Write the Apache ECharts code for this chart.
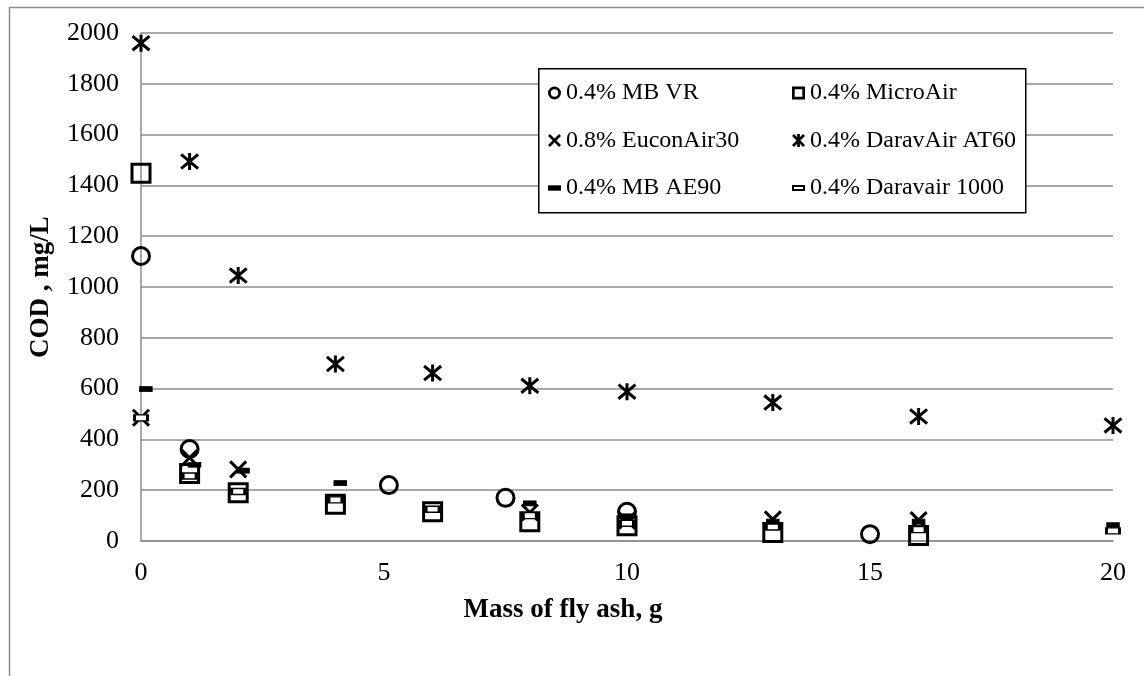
<!DOCTYPE html>
<html>
<head>
<meta charset="utf-8">
<script src="https://cdn.jsdelivr.net/npm/echarts@6/dist/echarts.min.js"></script>
<style>
html,body{margin:0;padding:0;background:#fff;}
#chart{width:1144px;height:676px;}
</style>
</head>
<body>
<div id="chart"></div>
<script>
// ---- data ----
const seriesNames = ['0.4% MB VR','0.4% MicroAir','0.8% EuconAir30','0.4% DaravAir AT60','0.4% MB AE90','0.4% Daravair 1000'];
const xTicks = [0,5,10,15,20];
const yTicks = [0,200,400,600,800,1000,1200,1400,1600,1800,2000];
const xTitle = 'Mass of fly ash, g';
const yTitle = 'COD , mg/L';

const xMBVR = [0, 1, 5.1, 7.5, 10, 15];
const yMBVR = [1122, 362, 220, 170, 115, 27];

const xMicroAir = [0, 1, 2, 4, 6, 8, 10, 13, 16];
const yMicroAir = [1448, 266, 190, 145, 115, 76, 60, 33, 22];

const xEucon = [0, 1, 2, 8, 10, 13, 16];
const yEucon = [485, 328, 282, 112, 80, 85, 82];

const xAT60 = [0, 1, 2, 4, 6, 8, 10, 13, 16, 20];
const yAT60 = [1960, 1494, 1045, 697, 661, 611, 588, 545, 490, 455];

const xAE90 = [0.1, 1.1, 2.1, 4.1, 8, 10, 13, 16, 20];
const yAE90 = [598, 300, 277, 228, 148, 97, 76, 76, 63];

const xD1000 = [0, 1, 2, 4, 6, 8, 10, 13, 16, 20];
const yD1000 = [485, 256, 195, 162, 125, 100, 70, 55, 45, 40];

const zip = (xs, ys) => xs.map((x, i) => [x, ys[i]]);

const FONT = '"Liberation Serif", "Times New Roman", serif';
// plot marker symbols (stroked)
const xSym = 'path://M0,0 L10,10 M10,0 L0,10';
const starSym = 'path://M0,0 L10,10 M10,0 L0,10 M5,-1 L5,11';
const dashSym = 'path://M0,0 L12,0 L12,5 L0,5 Z';
// legend icons (filled outlines so they stay bold)
const icoCircle = 'path://M6.5,0 A6.5,6.5 0 1,1 6.49,0 Z M6.5,2.8 A3.7,3.7 0 1,0 6.51,2.8 Z';
const icoSquare = 'path://M0,0 L13,0 L13,13 L0,13 Z M2.7,2.7 L2.7,10.3 L10.3,10.3 L10.3,2.7 Z';
const icoX = 'path://M1.06,-1.06 L13.06,10.94 L10.94,13.06 L-1.06,1.06 Z M13.06,1.06 L1.06,13.06 L-1.06,10.94 L10.94,-1.06 Z';
const icoStar = 'path://M1.06,-1.06 L13.06,10.94 L10.94,13.06 L-1.06,1.06 Z M13.06,1.06 L1.06,13.06 L-1.06,10.94 L10.94,-1.06 Z M4.5,-1 L7.5,-1 L7.5,13 L4.5,13 Z';
const icoDash = 'path://M0,0 L12,0 L12,5 L0,5 Z';
const icoHollowDash = 'path://M0,0 L13,0 L13,6 L0,6 Z M2,2 L2,4 L11,4 L11,2 Z';

const chart = echarts.init(document.getElementById('chart'), null, {renderer: 'canvas'});

const icoStyle = {color: '#000', borderWidth: 0, opacity: 1};
const legendCommon = {
  orient: 'vertical',
  itemWidth: 13,
  itemHeight: 13,
  itemGap: 23.5,
  itemTextGap: 1,
  padding: 0,
  selectedMode: false,
  itemStyle: icoStyle,
  textStyle: {fontFamily: FONT, fontSize: 24, color: '#000'}
};

const hollow = {color: 'rgba(0,0,0,0)', borderColor: '#000', borderWidth: 3, opacity: 1};

chart.setOption({
  animation: false,
  backgroundColor: '#fff',
  graphic: [
    {type: 'rect', left: 7, top: 5, shape: {width: 1136, height: 700},
     style: {fill: 'none', stroke: '#8c8c8c', lineWidth: 1.5}, silent: true, z: -10},
    {type: 'rect', left: 538, top: 68, shape: {width: 487, height: 144},
     style: {fill: '#fff', stroke: '#000', lineWidth: 1.5}, z: 5},
    {type: 'text', x: 563, y: 610, z: 5,
     style: {text: xTitle, font: 'bold 27px ' + FONT, fill: '#000', align: 'center', verticalAlign: 'middle'}}
  ],
  legend: [
    Object.assign({}, legendCommon, {
      left: 548, top: 81, z: 10,
      data: [
        {name: seriesNames[0], icon: icoCircle, itemStyle: icoStyle},
        {name: seriesNames[2], icon: icoX, itemStyle: icoStyle},
        {name: seriesNames[4], icon: icoDash, itemStyle: icoStyle}
      ]
    }),
    Object.assign({}, legendCommon, {
      left: 792, top: 81, z: 10,
      data: [
        {name: seriesNames[1], icon: icoSquare, itemStyle: icoStyle},
        {name: seriesNames[3], icon: icoStar, itemStyle: icoStyle},
        {name: seriesNames[5], icon: icoHollowDash, itemStyle: icoStyle}
      ]
    })
  ],
  grid: {left: 141, right: 31, top: 33, bottom: 135, containLabel: false},
  xAxis: {
    type: 'value', min: 0, max: 20, interval: 5,
    axisLine: {show: true, lineStyle: {color: '#8c8c8c', width: 1.5}},
    axisTick: {show: false},
    splitLine: {show: false},
    axisLabel: {fontFamily: FONT, fontSize: 26, color: '#000', margin: 19,
      formatter: v => xTicks.includes(v) ? String(v) : ''}
  },
  yAxis: {
    type: 'value', min: 0, max: 2000, interval: 200,
    name: yTitle, nameLocation: 'middle', nameGap: 86, nameRotate: 90,
    nameTextStyle: {fontFamily: FONT, fontSize: 27, fontWeight: 'bold', color: '#000'},
    axisLine: {show: true, lineStyle: {color: '#8c8c8c', width: 1.5}},
    axisTick: {show: false},
    splitLine: {show: true, lineStyle: {color: '#8c8c8c', width: 1.5}},
    axisLabel: {fontFamily: FONT, fontSize: 26, color: '#000', margin: 22,
      formatter: v => yTicks.includes(v) ? String(v) : ''}
  },
  series: [
    {name: seriesNames[0], type: 'scatter', data: zip(xMBVR, yMBVR),
     symbol: 'circle', symbolSize: 17, itemStyle: hollow},
    {name: seriesNames[1], type: 'scatter', data: zip(xMicroAir, yMicroAir),
     symbol: 'rect', symbolSize: 18, itemStyle: hollow},
    {name: seriesNames[2], type: 'scatter', data: zip(xEucon, yEucon),
     symbol: xSym, symbolSize: 16, itemStyle: hollow},
    {name: seriesNames[3], type: 'scatter', data: zip(xAT60, yAT60),
     symbol: starSym, symbolSize: 17, itemStyle: hollow},
    {name: seriesNames[4], type: 'scatter', data: zip(xAE90, yAE90),
     symbol: dashSym, symbolSize: [12, 5],
     itemStyle: {color: '#000', borderColor: '#000', borderWidth: 1, opacity: 1}},
    {name: seriesNames[5], type: 'scatter', data: zip(xD1000, yD1000),
     symbol: dashSym, symbolSize: [13, 6],
     itemStyle: {color: '#fff', borderColor: '#000', borderWidth: 2, opacity: 1}}
  ]
});
</script>
</body>
</html>
